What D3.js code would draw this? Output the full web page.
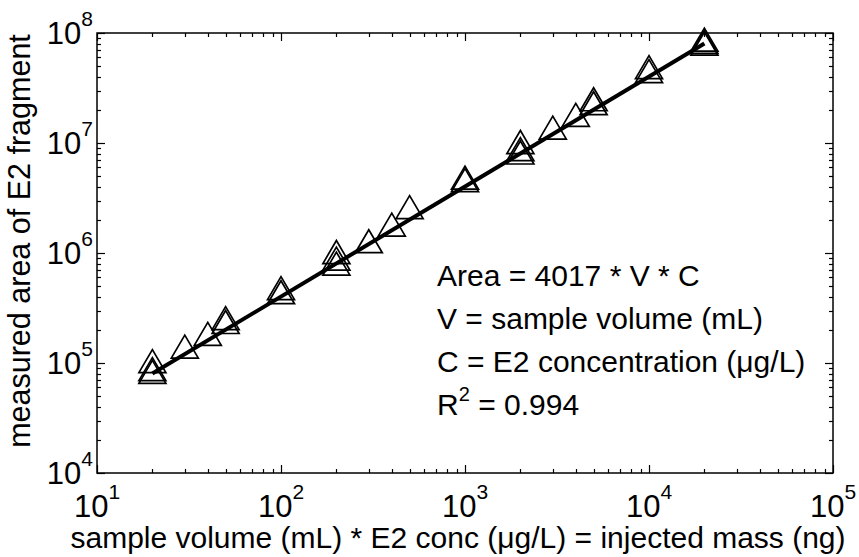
<!DOCTYPE html>
<html>
<head>
<meta charset="utf-8">
<script src="https://cdn.jsdelivr.net/npm/d3@7"></script>
<style>
  html, body { margin: 0; padding: 0; background: #fff; }
  svg { display: block; }
  text { font-family: "Liberation Sans", Arial, sans-serif; fill: #000; }
</style>
</head>
<body>
<svg id="chart" width="859" height="557"></svg>
<script>
// ---- data ----
const injectedMass = [20, 20, 20, 30, 40, 50, 50, 100, 100, 200, 200, 200, 300, 400, 500,
  1000, 1000, 2000, 2000, 2000, 3000, 4000, 5000, 5000, 10000, 10000, 20000, 20000, 20000];
const measuredArea = [1.04e5, 8.8e4, 8.3e4, 1.41e5, 1.84e5, 2.56e5, 2.36e5, 4.8e5, 4.4e5,
  1.02e6, 8.9e5, 8.0e5, 1.28e6, 1.81e6, 2.61e6, 4.85e6, 4.6e6, 1.02e7, 8.8e6, 8.2e6,
  1.38e7, 1.8e7, 2.5e7, 2.3e7, 4.9e7, 4.5e7, 8.7e7, 8.3e7, 8.0e7];
const fitSlope = 4017;
const fitRange = [20, 20000];
const xMajorTicks = [1e1, 1e2, 1e3, 1e4, 1e5];
const yMajorTicks = [1e4, 1e5, 1e6, 1e7, 1e8];
const xExponents = [1, 2, 3, 4, 5];
const yExponents = [4, 5, 6, 7, 8];
const xLabel = "sample volume (mL) * E2 conc (\u03BCg/L) = injected mass (ng)";
const yLabel = "measured area of E2 fragment";
const annotationLines = ["Area = 4017 * V * C", "V = sample volume (mL)", "C = E2 concentration (\u03BCg/L)"];
const r2Text = "0.994";

// ---- layout ----
const L = 97, R = 833, T = 33, B = 473;
const svg = d3.select("#chart");
const x = d3.scaleLog().domain([1e1, 1e5]).range([L, R]);
const y = d3.scaleLog().domain([1e4, 1e8]).range([B, T]);

function minorTicks(lo, hi) {
  const out = [];
  for (let d = lo; d < hi; d *= 10) for (let k = 2; k <= 9; k++) out.push(d * k);
  return out;
}
const xMinor = minorTicks(1e1, 1e5);
const yMinor = minorTicks(1e4, 1e8);
const MAJ = 8, MIN = 4;

const g = svg.append("g");
const tickStyle = sel => sel.attr("stroke", "#000").attr("stroke-width", 1.2);

// bottom & top ticks (inward)
[...xMajorTicks.map(v => [v, MAJ]), ...xMinor.map(v => [v, MIN])].forEach(([v, len]) => {
  const px = Math.round(x(v)) + 0.5;
  g.append("line").attr("x1", px).attr("x2", px).attr("y1", B).attr("y2", B - len).call(tickStyle);
  g.append("line").attr("x1", px).attr("x2", px).attr("y1", T).attr("y2", T + len).call(tickStyle);
});
// left & right ticks
[...yMajorTicks.map(v => [v, MAJ]), ...yMinor.map(v => [v, MIN])].forEach(([v, len]) => {
  const py = Math.round(y(v)) + 0.5;
  g.append("line").attr("y1", py).attr("y2", py).attr("x1", L).attr("x2", L + len).call(tickStyle);
  g.append("line").attr("y1", py).attr("y2", py).attr("x1", R).attr("x2", R - len).call(tickStyle);
});
// box
g.append("rect").attr("x", L).attr("y", T).attr("width", R - L).attr("height", B - T)
  .attr("fill", "none").attr("stroke", "#000").attr("stroke-width", 1.5);

// tick labels
xMajorTicks.forEach((v, i) => {
  const t = svg.append("text").attr("x", x(v)).attr("y", B + 44)
    .attr("text-anchor", "middle").style("font-size", "31px");
  t.append("tspan").text("10");
  t.append("tspan").attr("dy", -18).style("font-size", "21px").text(xExponents[i]);
});
yMajorTicks.forEach((v, i) => {
  const t = svg.append("text").attr("x", L - 4).attr("y", y(v) + 11)
    .attr("text-anchor", "end").style("font-size", "31px");
  t.append("tspan").text("10");
  t.append("tspan").attr("dy", -18).style("font-size", "21px").text(yExponents[i]);
});

// axis labels
svg.append("text").attr("x", (L + R) / 2 - 7).attr("y", 548).attr("text-anchor", "middle")
  .style("font-size", "30px").text(xLabel);
svg.append("text").attr("transform", `translate(30,${241}) rotate(-90)`)
  .attr("text-anchor", "middle").style("font-size", "30.5px").text(yLabel);

// fit line
svg.append("line")
  .attr("x1", x(fitRange[0])).attr("y1", y(fitSlope * fitRange[0]))
  .attr("x2", x(fitRange[1])).attr("y2", y(fitSlope * fitRange[1]))
  .attr("stroke", "#000").attr("stroke-width", 4);

// triangle markers
const hw = 13.5, hh = 11.5;
svg.append("g").selectAll("path").data(injectedMass.map((m, i) => [m, measuredArea[i]]))
  .join("path")
  .attr("d", d => {
    const cx = x(d[0]), cy = y(d[1]);
    return `M${cx},${cy - hh}L${cx + hw},${cy + hh}L${cx - hw},${cy + hh}Z`;
  })
  .attr("fill", "none").attr("stroke", "#000").attr("stroke-width", 1.7).attr("stroke-linejoin", "miter");

// annotation
const ax = 437, ay0 = 286, dy = 43;
annotationLines.forEach((s, i) => {
  svg.append("text").attr("x", ax).attr("y", ay0 + i * dy).style("font-size", "30px").text(s);
});
const r2 = svg.append("text").attr("x", ax).attr("y", ay0 + 3 * dy).style("font-size", "30px");
r2.append("tspan").text("R");
r2.append("tspan").attr("dy", -14).style("font-size", "20px").text("2");
r2.append("tspan").attr("dy", 14).text(" = " + r2Text);
</script>
</body>
</html>
